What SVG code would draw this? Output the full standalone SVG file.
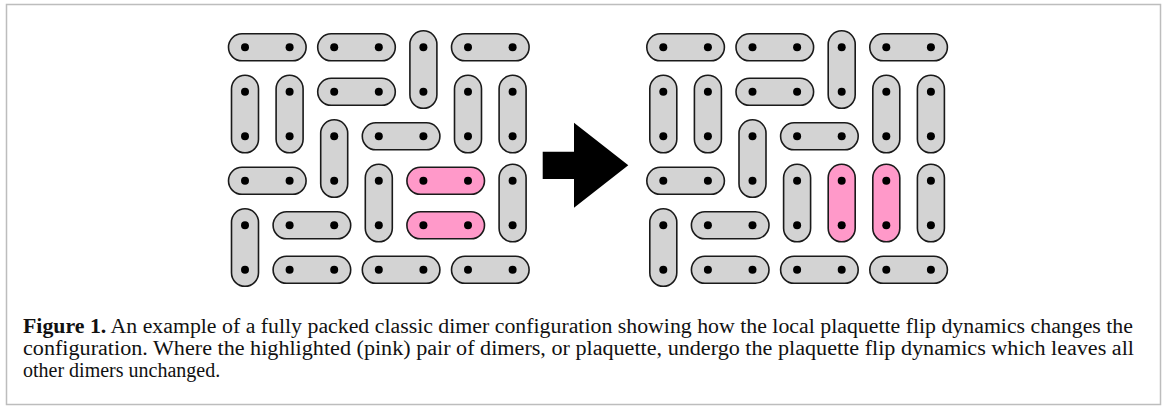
<svg xmlns="http://www.w3.org/2000/svg" width="1167" height="407" viewBox="0 0 1167 407">
<style>
.d{fill:#d3d3d3;stroke:#1a1a1a;stroke-width:1.6}
.p{fill:#ff99c9;stroke:#1a1a1a;stroke-width:1.6}
.s{fill:#000}
.cap{font-family:"Liberation Serif","Times New Roman",serif;font-size:20px;fill:#111}
.b{font-weight:bold}
</style>
<rect x="6.5" y="4.5" width="1154" height="400" fill="#fff" stroke="#bdbdbd" stroke-width="1.5"/>
<g id="lattice-before" transform="translate(245,47.3)">
<g id="L1"><rect class="d" x="-16.5" y="-13.5" width="77.6" height="27" rx="13.5"/><circle class="s" cx="0" cy="0" r="4"/><circle class="s" cx="44.6" cy="0" r="4"/></g>
<g id="L2"><rect class="d" x="72.7" y="-13.5" width="77.6" height="27" rx="13.5"/><circle class="s" cx="89.2" cy="0" r="4"/><circle class="s" cx="133.8" cy="0" r="4"/></g>
<g id="L3"><rect class="d" x="164.9" y="-16.5" width="27" height="77.5" rx="13.5"/><circle class="s" cx="178.4" cy="0" r="4"/><circle class="s" cx="178.4" cy="44.5" r="4"/></g>
<g id="L4"><rect class="d" x="206.5" y="-13.5" width="77.6" height="27" rx="13.5"/><circle class="s" cx="223" cy="0" r="4"/><circle class="s" cx="267.6" cy="0" r="4"/></g>
<g id="L5"><rect class="d" x="-13.5" y="28" width="27" height="77.5" rx="13.5"/><circle class="s" cx="0" cy="44.5" r="4"/><circle class="s" cx="0" cy="89" r="4"/></g>
<g id="L6"><rect class="d" x="31.1" y="28" width="27" height="77.5" rx="13.5"/><circle class="s" cx="44.6" cy="44.5" r="4"/><circle class="s" cx="44.6" cy="89" r="4"/></g>
<g id="L7"><rect class="d" x="72.7" y="31" width="77.6" height="27" rx="13.5"/><circle class="s" cx="89.2" cy="44.5" r="4"/><circle class="s" cx="133.8" cy="44.5" r="4"/></g>
<g id="L8"><rect class="d" x="209.5" y="28" width="27" height="77.5" rx="13.5"/><circle class="s" cx="223" cy="44.5" r="4"/><circle class="s" cx="223" cy="89" r="4"/></g>
<g id="L9"><rect class="d" x="254.1" y="28" width="27" height="77.5" rx="13.5"/><circle class="s" cx="267.6" cy="44.5" r="4"/><circle class="s" cx="267.6" cy="89" r="4"/></g>
<g id="L10"><rect class="d" x="75.7" y="72.5" width="27" height="77.5" rx="13.5"/><circle class="s" cx="89.2" cy="89" r="4"/><circle class="s" cx="89.2" cy="133.5" r="4"/></g>
<g id="L11"><rect class="d" x="117.3" y="75.5" width="77.6" height="27" rx="13.5"/><circle class="s" cx="133.8" cy="89" r="4"/><circle class="s" cx="178.4" cy="89" r="4"/></g>
<g id="L12"><rect class="d" x="-16.5" y="120" width="77.6" height="27" rx="13.5"/><circle class="s" cx="0" cy="133.5" r="4"/><circle class="s" cx="44.6" cy="133.5" r="4"/></g>
<g id="L13"><rect class="d" x="120.3" y="117" width="27" height="77.5" rx="13.5"/><circle class="s" cx="133.8" cy="133.5" r="4"/><circle class="s" cx="133.8" cy="178" r="4"/></g>
<g id="L14"><rect class="p" x="161.9" y="120" width="77.6" height="27" rx="13.5"/><circle class="s" cx="178.4" cy="133.5" r="4"/><circle class="s" cx="223" cy="133.5" r="4"/></g>
<g id="L15"><rect class="d" x="254.1" y="117" width="27" height="77.5" rx="13.5"/><circle class="s" cx="267.6" cy="133.5" r="4"/><circle class="s" cx="267.6" cy="178" r="4"/></g>
<g id="L16"><rect class="d" x="-13.5" y="161.5" width="27" height="77.5" rx="13.5"/><circle class="s" cx="0" cy="178" r="4"/><circle class="s" cx="0" cy="222.5" r="4"/></g>
<g id="L17"><rect class="d" x="28.1" y="164.5" width="77.6" height="27" rx="13.5"/><circle class="s" cx="44.6" cy="178" r="4"/><circle class="s" cx="89.2" cy="178" r="4"/></g>
<g id="L18"><rect class="p" x="161.9" y="164.5" width="77.6" height="27" rx="13.5"/><circle class="s" cx="178.4" cy="178" r="4"/><circle class="s" cx="223" cy="178" r="4"/></g>
<g id="L19"><rect class="d" x="28.1" y="209" width="77.6" height="27" rx="13.5"/><circle class="s" cx="44.6" cy="222.5" r="4"/><circle class="s" cx="89.2" cy="222.5" r="4"/></g>
<g id="L20"><rect class="d" x="117.3" y="209" width="77.6" height="27" rx="13.5"/><circle class="s" cx="133.8" cy="222.5" r="4"/><circle class="s" cx="178.4" cy="222.5" r="4"/></g>
<g id="L21"><rect class="d" x="206.5" y="209" width="77.6" height="27" rx="13.5"/><circle class="s" cx="223" cy="222.5" r="4"/><circle class="s" cx="267.6" cy="222.5" r="4"/></g>
</g>
<g id="connectors">
<polygon id="arrow" points="542.7,151.7 574,151.7 574,122.7 628.3,165.2 574,207.7 574,179 542.7,179" fill="#000"/>
</g>
<g id="lattice-after" transform="translate(663.3,47.3)">
<g id="R1"><rect class="d" x="-16.5" y="-13.5" width="77.6" height="27" rx="13.5"/><circle class="s" cx="0" cy="0" r="4"/><circle class="s" cx="44.6" cy="0" r="4"/></g>
<g id="R2"><rect class="d" x="72.7" y="-13.5" width="77.6" height="27" rx="13.5"/><circle class="s" cx="89.2" cy="0" r="4"/><circle class="s" cx="133.8" cy="0" r="4"/></g>
<g id="R3"><rect class="d" x="164.9" y="-16.5" width="27" height="77.5" rx="13.5"/><circle class="s" cx="178.4" cy="0" r="4"/><circle class="s" cx="178.4" cy="44.5" r="4"/></g>
<g id="R4"><rect class="d" x="206.5" y="-13.5" width="77.6" height="27" rx="13.5"/><circle class="s" cx="223" cy="0" r="4"/><circle class="s" cx="267.6" cy="0" r="4"/></g>
<g id="R5"><rect class="d" x="-13.5" y="28" width="27" height="77.5" rx="13.5"/><circle class="s" cx="0" cy="44.5" r="4"/><circle class="s" cx="0" cy="89" r="4"/></g>
<g id="R6"><rect class="d" x="31.1" y="28" width="27" height="77.5" rx="13.5"/><circle class="s" cx="44.6" cy="44.5" r="4"/><circle class="s" cx="44.6" cy="89" r="4"/></g>
<g id="R7"><rect class="d" x="72.7" y="31" width="77.6" height="27" rx="13.5"/><circle class="s" cx="89.2" cy="44.5" r="4"/><circle class="s" cx="133.8" cy="44.5" r="4"/></g>
<g id="R8"><rect class="d" x="209.5" y="28" width="27" height="77.5" rx="13.5"/><circle class="s" cx="223" cy="44.5" r="4"/><circle class="s" cx="223" cy="89" r="4"/></g>
<g id="R9"><rect class="d" x="254.1" y="28" width="27" height="77.5" rx="13.5"/><circle class="s" cx="267.6" cy="44.5" r="4"/><circle class="s" cx="267.6" cy="89" r="4"/></g>
<g id="R10"><rect class="d" x="75.7" y="72.5" width="27" height="77.5" rx="13.5"/><circle class="s" cx="89.2" cy="89" r="4"/><circle class="s" cx="89.2" cy="133.5" r="4"/></g>
<g id="R11"><rect class="d" x="117.3" y="75.5" width="77.6" height="27" rx="13.5"/><circle class="s" cx="133.8" cy="89" r="4"/><circle class="s" cx="178.4" cy="89" r="4"/></g>
<g id="R12"><rect class="d" x="-16.5" y="120" width="77.6" height="27" rx="13.5"/><circle class="s" cx="0" cy="133.5" r="4"/><circle class="s" cx="44.6" cy="133.5" r="4"/></g>
<g id="R13"><rect class="d" x="120.3" y="117" width="27" height="77.5" rx="13.5"/><circle class="s" cx="133.8" cy="133.5" r="4"/><circle class="s" cx="133.8" cy="178" r="4"/></g>
<g id="R14"><rect class="p" x="164.9" y="117" width="27" height="77.5" rx="13.5"/><circle class="s" cx="178.4" cy="133.5" r="4"/><circle class="s" cx="178.4" cy="178" r="4"/></g>
<g id="R15"><rect class="d" x="254.1" y="117" width="27" height="77.5" rx="13.5"/><circle class="s" cx="267.6" cy="133.5" r="4"/><circle class="s" cx="267.6" cy="178" r="4"/></g>
<g id="R16"><rect class="d" x="-13.5" y="161.5" width="27" height="77.5" rx="13.5"/><circle class="s" cx="0" cy="178" r="4"/><circle class="s" cx="0" cy="222.5" r="4"/></g>
<g id="R17"><rect class="d" x="28.1" y="164.5" width="77.6" height="27" rx="13.5"/><circle class="s" cx="44.6" cy="178" r="4"/><circle class="s" cx="89.2" cy="178" r="4"/></g>
<g id="R18"><rect class="p" x="209.5" y="117" width="27" height="77.5" rx="13.5"/><circle class="s" cx="223" cy="133.5" r="4"/><circle class="s" cx="223" cy="178" r="4"/></g>
<g id="R19"><rect class="d" x="28.1" y="209" width="77.6" height="27" rx="13.5"/><circle class="s" cx="44.6" cy="222.5" r="4"/><circle class="s" cx="89.2" cy="222.5" r="4"/></g>
<g id="R20"><rect class="d" x="117.3" y="209" width="77.6" height="27" rx="13.5"/><circle class="s" cx="133.8" cy="222.5" r="4"/><circle class="s" cx="178.4" cy="222.5" r="4"/></g>
<g id="R21"><rect class="d" x="206.5" y="209" width="77.6" height="27" rx="13.5"/><circle class="s" cx="223" cy="222.5" r="4"/><circle class="s" cx="267.6" cy="222.5" r="4"/></g>
</g>
<g id="caption" class="cap">
<text x="23" y="333" textLength="1110" lengthAdjust="spacingAndGlyphs"><tspan class="b">Figure 1.</tspan> An example of a fully packed classic dimer configuration showing how the local plaquette flip dynamics changes the</text>
<text x="23" y="355" textLength="1111" lengthAdjust="spacingAndGlyphs">configuration. Where the highlighted (pink) pair of dimers, or plaquette, undergo the plaquette flip dynamics which leaves all</text>
<text x="23" y="377">other dimers unchanged.</text>
</g>
</svg>
